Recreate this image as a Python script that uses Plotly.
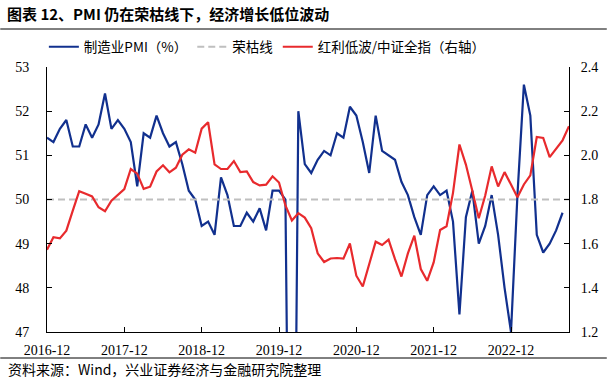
import pandas as pd
import plotly.graph_objects as go

# Months on the category axis (2016-12 .. 2023-09)
months = [d.strftime("%Y-%m") for d in pd.date_range("2016-12-01", "2023-09-01", freq="MS")]

# 制造业PMI（%）, monthly 2016-12 .. 2023-08
pmi = [51.4,
       51.3, 51.6, 51.8, 51.2, 51.2, 51.7, 51.4, 51.7, 52.4, 51.6, 51.8, 51.6,
       51.3, 50.3, 51.5, 51.4, 51.9, 51.5, 51.2, 51.3, 50.8, 50.2, 50.0, 49.4,
       49.5, 49.2, 50.5, 50.1, 49.4, 49.4, 49.7, 49.5, 49.8, 49.3, 50.2, 50.2,
       50.0, 35.7, 52.0, 50.8, 50.6, 50.9, 51.1, 51.0, 51.5, 51.4, 52.1, 51.9,
       51.3, 50.6, 51.9, 51.1, 51.0, 50.9, 50.4, 50.1, 49.6, 49.2, 50.1, 50.3,
       50.1, 50.2, 49.5, 47.4, 49.6, 50.2, 49.0, 49.4, 50.1, 49.2, 48.0, 47.0,
       50.1, 52.6, 51.9, 49.2, 48.8, 49.0, 49.3, 49.7]

# 红利低波/中证全指（右轴）, 2016-12 .. 2023-09
ratio = [1.573,
         1.629, 1.624, 1.659, 1.750, 1.838, 1.826, 1.814, 1.765, 1.747, 1.795, 1.823, 1.847,
         1.938, 1.917, 1.848, 1.858, 1.927, 1.955, 1.923, 1.944, 2.003, 2.027, 2.012, 2.121,
         2.150, 1.959, 1.938, 1.938, 1.974, 1.924, 1.927, 1.879, 1.864, 1.867, 1.905, 1.877,
         1.773, 1.705, 1.738, 1.718, 1.670, 1.556, 1.517, 1.533, 1.535, 1.532, 1.601, 1.455,
         1.406, 1.508, 1.609, 1.594, 1.618, 1.530, 1.451, 1.556, 1.636, 1.485, 1.432, 1.515,
         1.662, 1.679, 1.830, 2.049, 1.958, 1.840, 1.715, 1.818, 1.950, 1.859, 1.924, 1.868,
         1.810, 1.868, 1.909, 2.083, 2.079, 1.992, 2.030, 2.068, 2.132]

threshold = 50  # 荣枯线
threshold_line = [threshold for _ in months]

tick_labels = ["2016-12", "2017-12", "2018-12", "2019-12", "2020-12", "2021-12", "2022-12"]

BLUE = "#11308E"
RED = "#E82A2D"
GREY = "#BFBFBF"
CJK = "Noto Sans CJK SC"
SERIF = "Liberation Serif"

fig = go.Figure()
fig.add_trace(go.Scatter(x=months[:len(pmi)], y=pmi, mode="lines", name="制造业PMI（%）",
                         line=dict(color=BLUE, width=2.2)))
fig.add_trace(go.Scatter(x=months, y=threshold_line, mode="lines", name="荣枯线",
                         line=dict(color=GREY, width=2, dash="7px,4px")))
fig.add_trace(go.Scatter(x=months[:len(ratio)], y=ratio, mode="lines", name="红利低波/中证全指（右轴）",
                         line=dict(color=RED, width=2.2), yaxis="y2"))

fig.update_layout(
    width=610, height=379,
    margin=dict(l=47, r=38, t=67, b=47),
    paper_bgcolor="white", plot_bgcolor="white",
    showlegend=True,
    legend=dict(orientation="h", x=-0.006, xanchor="left", y=1.0755, yanchor="middle",
                font=dict(family=CJK, size=13.5, color="black"), bgcolor="rgba(0,0,0,0)"),
    xaxis=dict(type="category", categoryorder="array", categoryarray=months,
               range=[0, len(months) - 1], tickvals=tick_labels, ticktext=tick_labels,
               ticks="inside", ticklen=5, tickcolor="black", showline=True, linecolor="black",
               linewidth=1, showgrid=False, zeroline=False, ticklabelstandoff=5,
               tickfont=dict(family=SERIF, size=14, color="black")),
    yaxis=dict(range=[47, 53], dtick=1, ticks="inside", ticklen=5, tickcolor="black",
               showline=True, linecolor="black", linewidth=1, showgrid=False, zeroline=False,
               ticklabelstandoff=14,
               tickfont=dict(family=SERIF, size=14, color="black")),
    yaxis2=dict(range=[1.2, 2.4], dtick=0.2, tickformat=".1f", overlaying="y", side="right",
                ticks="inside", ticklen=5, tickcolor="black", showline=True, linecolor="black",
                linewidth=1, showgrid=False, zeroline=False, ticklabelstandoff=8,
                tickfont=dict(family=SERIF, size=14, color="black")),
    annotations=[
        dict(text="<b>图表 12、PMI 仍在荣枯线下，经济增长低位波动</b>", xref="paper", yref="paper",
             x=-47 / 525 + 5 / 525, y=(332 - 13) / 265, xanchor="left", yanchor="middle",
             showarrow=False, font=dict(family=CJK, size=15, color="black")),
        dict(text="资料来源：Wind，兴业证券经济与金融研究院整理", xref="paper", yref="paper",
             x=-47 / 525 + 6 / 525, y=(332 - 369) / 265, xanchor="left", yanchor="middle",
             showarrow=False, font=dict(family=CJK, size=14, color="black")),
    ],
    shapes=[
        dict(type="line", xref="paper", yref="paper", x0=-47 / 525, x1=563 / 525,
             y0=(332 - 29) / 265, y1=(332 - 29) / 265, line=dict(color="black", width=1)),
        dict(type="line", xref="paper", yref="paper", x0=-47 / 525, x1=563 / 525,
             y0=(332 - 358) / 265, y1=(332 - 358) / 265, line=dict(color="black", width=1)),
    ],
)

fig.write_html("out.html", config={"displayModeBar": False},
               post_script="document.body.style.margin='0';document.body.style.overflow='hidden';")
